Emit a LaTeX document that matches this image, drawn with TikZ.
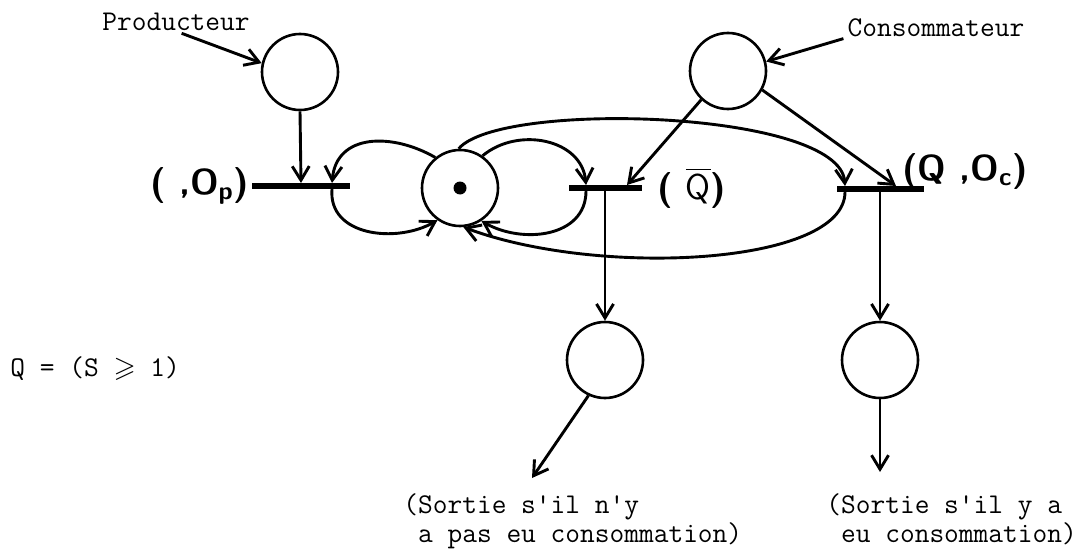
\documentclass[tikz,border=0pt]{standalone}
\usepackage{amsmath,amssymb}
\usepackage{fontspec}
\usetikzlibrary{
  arrows.meta,
  positioning,
}

\begin{document}
\begin{tikzpicture}[
  x=0.5pt, y=-0.5pt,
  >={Straight Barb[length=7pt,width=8.5pt]},
  place/.style={circle, draw, line width=1.3pt, minimum size=38pt,
                inner sep=0pt},
  trans/.style={fill=black, inner sep=0pt, minimum height=2.6pt},
  token/.style={circle, fill=black, minimum size=6.5pt, inner sep=0pt},
  flow/.style={->, line width=1.45pt},
  % typed labels (machine) vs. hand-written transition tags
  mono/.style={font=\fontsize{14.3}{15.3}\selectfont\ttfamily,
               inner sep=0pt},
  hand/.style={font=\fontsize{18}{21}\selectfont\sffamily\bfseries,
               inner sep=0pt},
]
  \useasboundingbox (0,0) rectangle (1085,551);

  % Producer side
  \node[mono]  (prodtxt) at (176,22)  {Producteur};
  \node[place] (pp)      at (300,72)  {};
  \node[trans, minimum width=49pt] (tp) at (301,186) {};
  \node[hand, left=1pt of tp] (lblp) {( ,O$_{\boldsymbol{\mathsf{p}}}$)};

  % Shared place with its token
  \node[place] (S)   at (460,188) {};
  \node[token] (tok) at (S) {};

  % Test transition (not Q)
  \node[trans, minimum width=36.5pt] (tq) at (605,188) {};
  \node[hand, right=7.5pt of tq] (lblq) {( $\overline{\mathsf{Q}}$)};

  % Consumer side
  \node[mono]  (constxt) at (936,28) {Consommateur};
  \node[place] (pc)      at (728,71) {};
  \node[trans, minimum width=43.5pt] (tQ) at (880,189) {};
  \node[hand] (lblQ) at (965,171) {(Q ,O$_{\boldsymbol{\mathsf{c}}}$)};

  % Exit places
  \node[place] (po1) at (605,360) {};
  \node[place] (po2) at (880,360) {};
  \coordinate (e1) at (532,478);
  \coordinate (e2) at (880,472);

  % Texts
  \node[mono, anchor=west] (cond) at (10,369)
       {Q = (S $\geqslant$ 1)};
  \node[mono, align=left, anchor=north west] (out1) at (403,493)
       {(Sortie s'il n'y\\[-0.6pt]~a pas eu consommation)};
  \node[mono, align=left, anchor=north west] (out2) at (826,493)
       {(Sortie s'il y a\\[-0.6pt]~eu consommation)};

  % Producer arcs
  \draw[flow, shorten <=3pt] (prodtxt.south) -- (pp.167);
  \draw[flow] (pp.south) -- (tp.north);
  \draw[flow] (S.129) to[out=150, in=85, looseness=1.2]
              ([xshift=15.5pt]tp.north);
  \draw[flow] ([xshift=15.5pt]tp.south) to[out=-95, in=210, looseness=1.1]
              (S.235);

  % Small loop through the test transition
  \draw[flow] (S.55) to[out=40, in=95, looseness=1.1]
              ([xshift=-9.5pt]tq.north);
  \draw[flow] ([xshift=-9.5pt]tq.south) to[out=-90, in=-30, looseness=1.1]
              (S.303);

  % Big loop through the consume transition
  \draw[flow] (S.92) .. controls (500,100) and (840,110)
              .. ([xshift=-17.5pt]tQ.north);
  \draw[flow] ([xshift=-17.5pt]tQ.south) .. controls (845,265) and (600,278)
              .. (S.275);

  % Consumer arcs
  \draw[flow, shorten <=2pt] (constxt.south west) -- (pc.14);
  \draw[flow] (pc.227) -- ([xshift=11pt]tq.north);
  \draw[flow] (pc.331) -- ([xshift=8pt]tQ.north);

  % Outputs
  \draw[flow] (tq.south) -- (po1.north);
  \draw[flow] (tQ.south) -- (po2.north);
  \draw[flow] (po1.245) -- (e1);
  \draw[flow] (po2.south) -- (e2);
\end{tikzpicture}
\end{document}
